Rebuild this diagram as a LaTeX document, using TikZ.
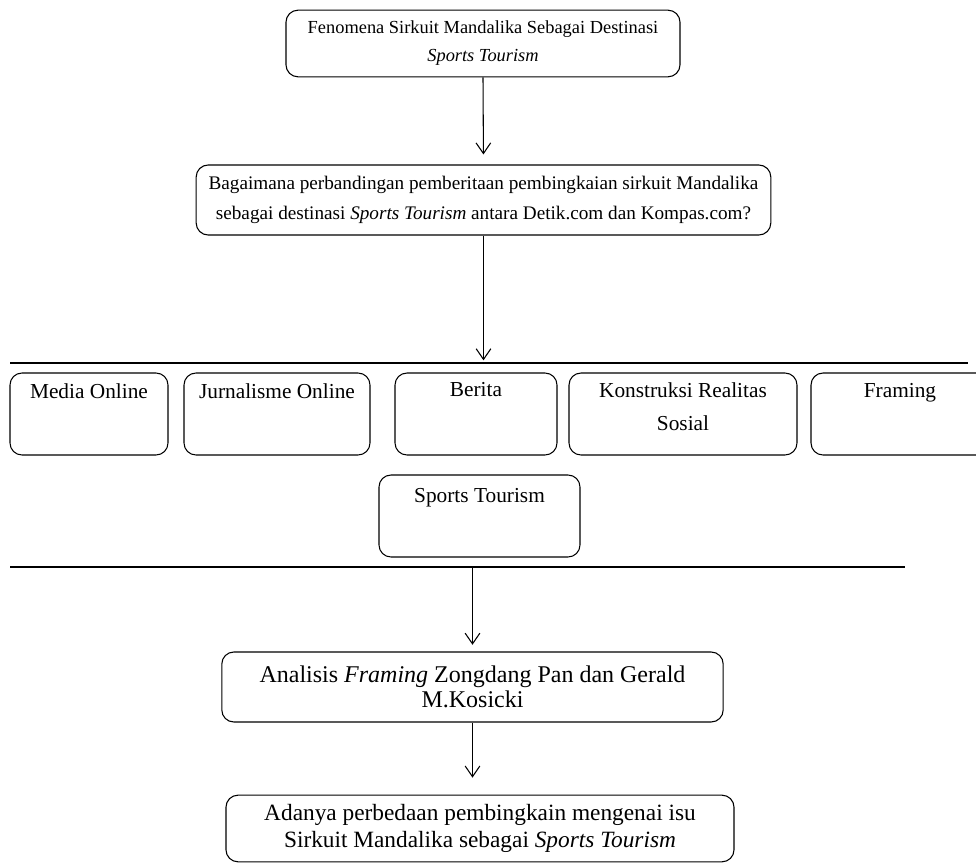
\documentclass[tikz,border=0pt]{standalone}
\usepackage{fontspec}
\setmainfont{Liberation Serif}
\usetikzlibrary{arrows.meta}

\begin{document}
\begin{tikzpicture}[x=0.75pt,y=-0.75pt,
  kotak/.style={draw,rounded corners=9pt,line width=0.8pt,align=center,inner sep=0pt},
  panah/.style={-{Straight Barb[length=8pt,width=11pt]},line width=0.8pt},
  garis/.style={line width=0.8pt}]
  \useasboundingbox (0,0) rectangle (976,864);

  \node[kotak,minimum width=295.5pt,minimum height=50pt,font=\fontsize{13.8}{21}\selectfont] (fenomena) at (483,43.5)
    {Fenomena Sirkuit Mandalika Sebagai Destinasi\\\textit{Sports Tourism}};
  \node[kotak,minimum width=431pt,minimum height=52.5pt,font=\fontsize{14.4}{23}\selectfont] (rumusan) at (483.5,200)
    {Bagaimana perbandingan pemberitaan pembingkaian sirkuit Mandalika\\sebagai destinasi \textit{Sports Tourism} antara Detik.com dan Kompas.com?};

  \coordinate (g1kiri) at (10,363);
  \coordinate (g1kanan) at (968,363);
  \draw[garis] (g1kiri) -- (g1kanan);

  \node[kotak,minimum width=118.5pt,minimum height=61.5pt,font=\fontsize{16}{25}\selectfont] (media) at (89,414)
    {\parbox[c][61.5pt][t]{115pt}{\centering\vspace{8pt}Media Online}};
  \node[kotak,minimum width=139.5pt,minimum height=61.5pt,font=\fontsize{16}{25}\selectfont] (jurnalisme) at (277,414)
    {\parbox[c][61.5pt][t]{135pt}{\centering\vspace{8pt}Jurnalisme Online}};
  \node[kotak,minimum width=121.5pt,minimum height=61.5pt,font=\fontsize{16}{25}\selectfont] (berita) at (476,414)
    {\parbox[c][61.5pt][t]{118pt}{\centering\vspace{7pt}Berita}};
  \node[kotak,minimum width=171pt,minimum height=61.5pt,font=\fontsize{16}{25}\selectfont] (konstruksi) at (683,414)
    {\parbox[c][61.5pt][t]{166pt}{\centering\vspace{7pt}Konstruksi Realitas\\Sosial}};
  \node[kotak,minimum width=133.5pt,minimum height=61.5pt,font=\fontsize{16}{25}\selectfont] (framing) at (900,414)
    {\parbox[c][61.5pt][t]{96pt}{\centering\vspace{8pt}Framing}};

  \node[kotak,minimum width=150.75pt,minimum height=61.5pt,font=\fontsize{16}{25}\selectfont] (sports) at (479.5,516)
    {\parbox[c][61.5pt][t]{145pt}{\centering\vspace{10pt}Sports Tourism}};

  \coordinate (g2kiri) at (10,567);
  \coordinate (g2kanan) at (905,567);
  \draw[garis] (g2kiri) -- (g2kanan);

  \node[kotak,minimum width=376pt,minimum height=52.5pt,font=\fontsize{18}{19}\selectfont] (analisis) at (472.5,687)
    {Analisis \textit{Framing} Zongdang Pan dan Gerald\\M.Kosicki};
  \node[kotak,minimum width=381pt,minimum height=50pt,font=\fontsize{17.5}{20}\selectfont] (hasil) at (480,828.5)
    {Adanya perbedaan pembingkain mengenai isu\\Sirkuit Mandalika sebagai \textit{Sports Tourism}};

  \draw[panah,shorten >=7.5pt] (fenomena.south) -- (rumusan.north);
  \draw[panah,shorten >=2pt] (rumusan.south) -- (rumusan.south |- g1kiri);
  \draw[panah,shorten >=5pt] (analisis.north |- g2kiri) -- (analisis.north);
  \draw[panah,shorten >=12.75pt] (analisis.south) -- (analisis.south |- hasil.north);
\end{tikzpicture}
\end{document}
